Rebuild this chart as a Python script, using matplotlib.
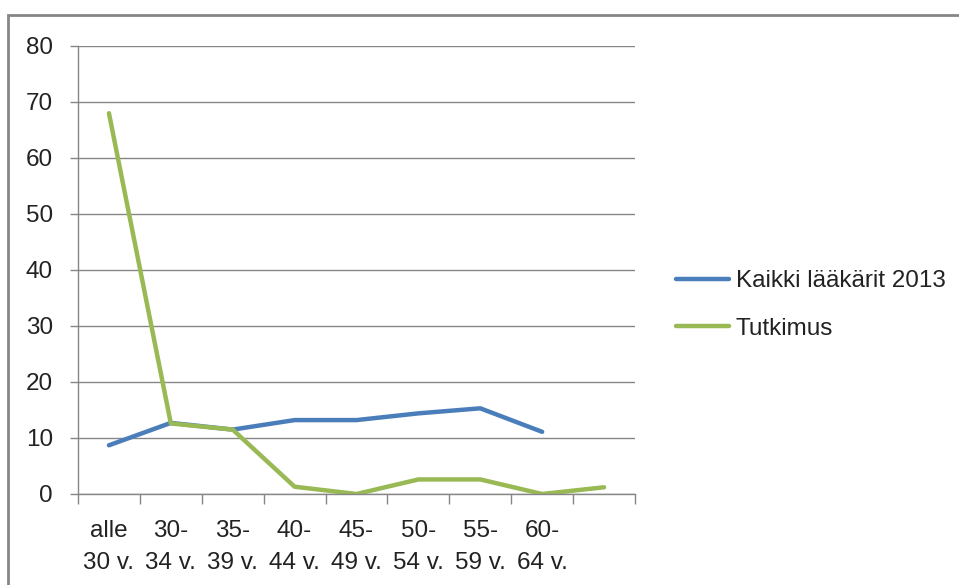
import numpy as np
import matplotlib.pyplot as plt
from matplotlib.patches import Rectangle

plt.rcParams['font.family'] = ['Liberation Sans', 'DejaVu Sans']

age_groups = ["alle\n30 v.", "30-\n34 v.", "35-\n39 v.", "40-\n44 v.", "45-\n49 v.",
              "50-\n54 v.", "55-\n59 v.", "60-\n64 v.", ""]
kaikki_2013 = [8.7, 12.7, 11.5, 13.2, 13.2, 14.4, 15.3, 11.1]
tutkimus = [68.0, 12.6, 11.5, 1.3, 0.0, 2.6, 2.6, 0.0, 1.2]

blue = "#4A7EBB"
green = "#98B954"
grid_gray = "#868686"

W, H = 959, 585
fig = plt.figure(figsize=(W / 100, H / 100), dpi=100)
ax = fig.add_axes([78 / W, 1 - 494 / H, (635 - 78) / W, (494 - 46) / H])

xpos = np.arange(len(age_groups))
ax.plot(xpos[:len(kaikki_2013)], kaikki_2013, color=blue, lw=3.2,
        solid_capstyle="round", label="Kaikki lääkärit 2013")
ax.plot(xpos, tutkimus, color=green, lw=3.2,
        solid_capstyle="round", label="Tutkimus")

ax.set_xlim(-0.5, len(age_groups) - 0.5)
ax.set_ylim(0, 80)
ax.set_yticks(np.arange(0, 81, 10))
ax.yaxis.grid(True, color=grid_gray, lw=1.0)
ax.set_axisbelow(True)

# category labels at centres, tick marks on the boundaries
ax.set_xticks(xpos)
ax.set_xticklabels(age_groups, linespacing=1.55)
ax.set_xticks(np.arange(-0.5, len(age_groups), 1.0), minor=True)
ax.tick_params(axis="x", which="major", length=0, pad=19, labelsize=17.5, colors="#222222")
ax.tick_params(axis="x", which="minor", length=7, width=1.0, color=grid_gray, direction="out")
ax.tick_params(axis="y", length=6, width=1.0, color=grid_gray, pad=12, labelsize=17.5,
               labelcolor="#222222")

for side in ("top", "right"):
    ax.spines[side].set_visible(False)
for side in ("left", "bottom"):
    ax.spines[side].set_color(grid_gray)
    ax.spines[side].set_linewidth(1.0)

leg = fig.legend(loc="center left", bbox_to_anchor=(676 / W, 1 - 305 / H),
                 frameon=False, fontsize=17.5, handlelength=2.2, handletextpad=0.25,
                 labelspacing=1.05, borderpad=0, borderaxespad=0)
for t in leg.get_texts():
    t.set_color("#222222")

# outer chart frame
fig.patches.append(Rectangle((8, -20), W + 40, H + 5, transform=None,
                             fill=False, edgecolor=grid_gray, lw=2.0))

fig.savefig("out.png", dpi=100)
